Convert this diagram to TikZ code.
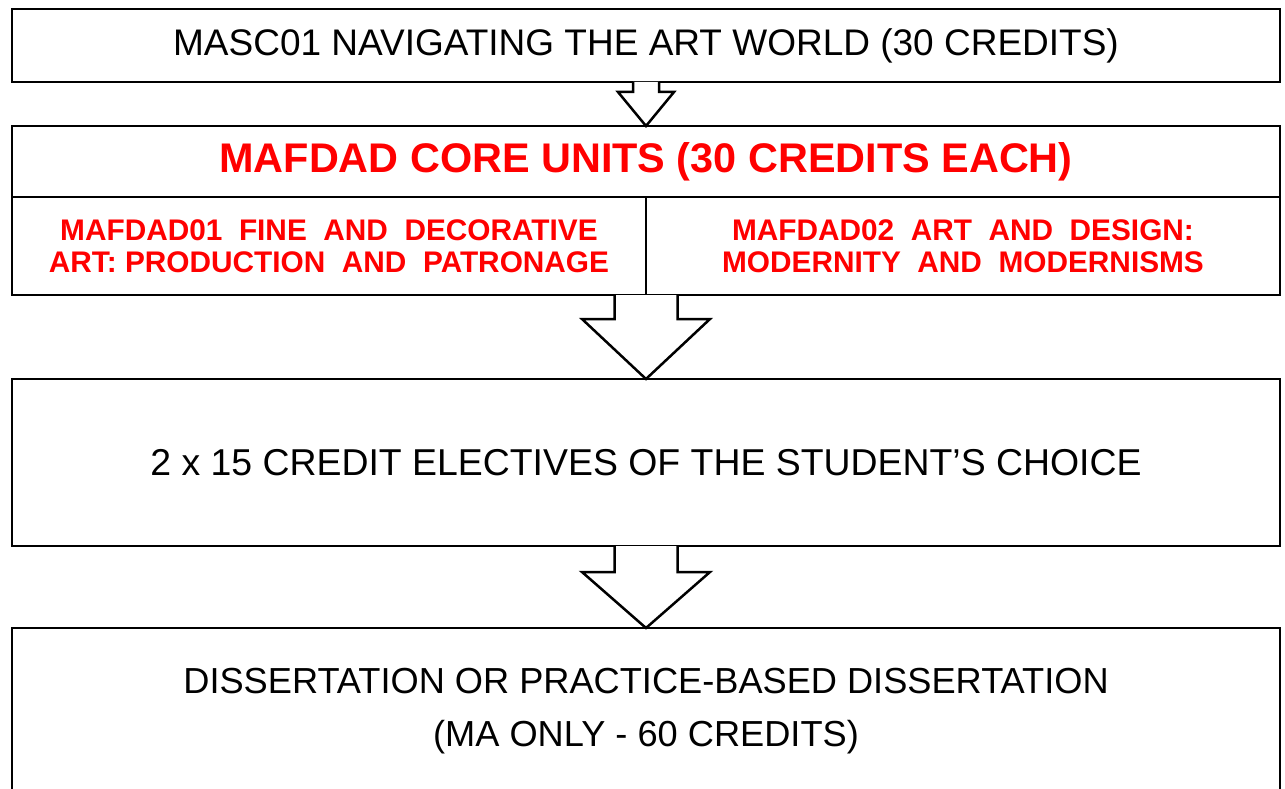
\documentclass[tikz,border=0pt]{standalone}
\usepackage{fontspec}
\setmainfont{Liberation Sans}
\usetikzlibrary{calc}
\usetikzlibrary{positioning}
\tikzset{
    unit/.style={
           rectangle,
           draw=black, line width=2.5pt,
           outer sep=0pt,
           inner sep=2pt,
           minimum width=1268pt,
           text centered,
           font=\fontsize{37}{44}\selectfont,
           },
    core/.style={
           unit,
           text=red,
           },
    cell/.style={
           core,
           minimum width=634pt,
           minimum height=98pt,
           align=center,
           font=\bfseries\fontsize{29.8}{32}\selectfont,
           },
    hollow/.style={draw=black, line width=2.5pt, miter limit=20},
}
\begin{document}
\begin{tikzpicture}[x=1pt,y=-1pt]
      \useasboundingbox (0,0) rectangle (1285,789);
      \node[unit, minimum height=73pt, anchor=north west] (masc) at (12,9)
            {MASC01 NAVIGATING THE ART WORLD (30 CREDITS)};
      \node[core, minimum height=71pt, font=\bfseries\fontsize{41.4}{48}\selectfont] (core) [below=44pt of masc]
            {MAFDAD CORE UNITS (30 CREDITS EACH)};
      \node[cell] (unit1) [below right=0pt and 0pt of core.south west]
            {MAFDAD01\ \ FINE\ \ AND\ \ DECORATIVE\\ART:\ PRODUCTION\ \ AND\ \ PATRONAGE};
      \node[cell] (unit2) [right=0pt of unit1]
            {MAFDAD02\ \ ART\ \ AND\ \ DESIGN:\\MODERNITY\ \ AND\ \ MODERNISMS};
      \node[unit, minimum height=167pt, font=\fontsize{37.4}{44}\selectfont] (elect) [below=84pt of unit1.south east]
            {2 x 15 CREDIT ELECTIVES OF THE STUDENT'S CHOICE};
      \node[unit, minimum height=166pt, align=center, font=\fontsize{36.2}{53}\selectfont] (diss) [below=82pt of elect]
            {DISSERTATION OR PRACTICE-BASED DISSERTATION\\(MA ONLY - 60 CREDITS)};
      % block arrows between the units
      \foreach \from/\to/\sw/\sd/\hw in {masc.south/core.north/13/10/28,
                                         unit1.south east/elect.north/31.5/24/64,
                                         elect.south/diss.north/31.5/26/64}
      {
        \fill[white] ($(\from)+(-\sw,0)$) -- ($(\from)+(-\sw,\sd)$) -- ($(\from)+(-\hw,\sd)$)
              -- (\to) -- ($(\from)+(\hw,\sd)$) -- ($(\from)+(\sw,\sd)$) -- ($(\from)+(\sw,0)$) -- cycle;
        \draw[hollow] ($(\from)+(-\sw,0)$) -- ($(\from)+(-\sw,\sd)$) -- ($(\from)+(-\hw,\sd)$)
              -- (\to) -- ($(\from)+(\hw,\sd)$) -- ($(\from)+(\sw,\sd)$) -- ($(\from)+(\sw,0)$);
      }
\end{tikzpicture}
\end{document}
